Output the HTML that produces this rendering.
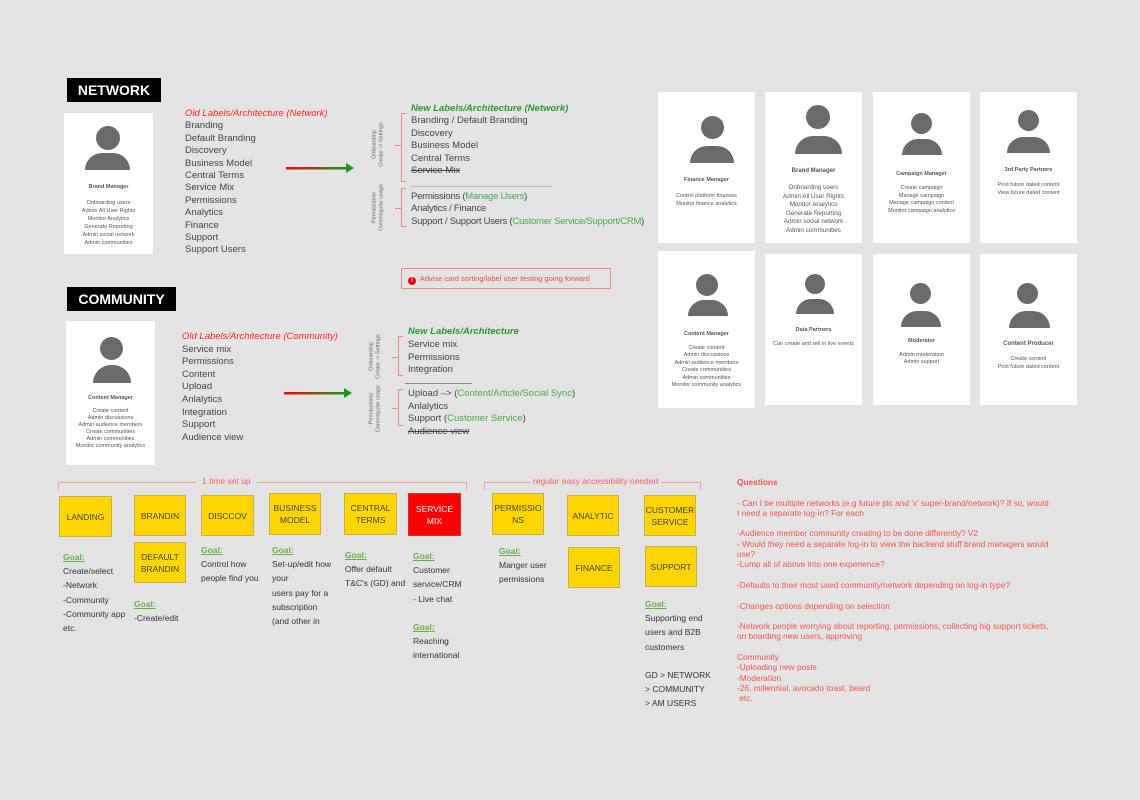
<!DOCTYPE html>
<html><head><meta charset="utf-8"><style>
*{margin:0;padding:0;box-sizing:border-box}
body{width:1140px;height:800px;background:#e4e4e4;position:relative;overflow:hidden;font-family:"Liberation Sans",sans-serif;color:#444}
.a{position:absolute;white-space:nowrap}
.lbl{position:absolute;background:#000;color:#fff;font-weight:bold;font-size:14px;text-align:center;line-height:24px}
.card{position:absolute;background:#fff}
.ic{position:absolute;background:#6a6a6a}
.t{font-size:9.5px;color:#444;line-height:12.4px}
.ct{position:absolute;left:0;right:0;text-align:center;color:#555;white-space:nowrap}
.y{position:absolute;background:#ffd600;border:1px solid #c9b04a;font-size:8.5px;color:#444;text-align:center;display:flex;align-items:center;justify-content:center;line-height:12px}
.g{font-size:8.5px;line-height:14.2px;color:#333}
.gl{color:#6aae4a;font-weight:bold;text-decoration:underline}
.q{font-size:8.3px;color:#f0544c;line-height:10.3px}
.br{position:absolute;border:1px solid #f08a8a;border-right:none}
.rot{position:absolute;transform:rotate(-90deg);transform-origin:center;font-size:5.5px;color:#666;text-align:center;line-height:6.5px;white-space:nowrap}
</style></head><body>

<div class="lbl" style="left:67px;top:78px;width:94px;">NETWORK</div>
<div class="lbl" style="left:67px;top:287px;width:109px;">COMMUNITY</div>

<div class="card" style="left:64px;top:113px;width:89px;height:141px;">
<div class="ic" style="left:32px;top:13px;width:24px;height:24px;border-radius:50%"></div>
<div class="ic" style="left:21px;top:40px;width:45px;height:17px;border-radius:20px 20px 0 0"></div>
<div class="ct" style="top:71px;font-size:5.5px;font-weight:bold">Brand Manager</div>
<div class="ct" style="top:86px;font-size:5.5px;line-height:8px">Onboarding users<br>Admin All User Rights<br>Monitor Analytics<br>Generate Reporting<br>Admin social network<br>Admin communities</div>
</div>

<div class="a t" style="left:185px;top:108px"><i style="color:#f22;">Old Labels/Architecture (Network)</i><br>Branding<br>Default Branding<br>Discovery<br>Business Model<br>Central Terms<br>Service Mix<br>Permissions<br>Analytics<br>Finance<br>Support<br>Support Users</div>

<svg class="a" style="left:280px;top:160px" width="80" height="16"><defs><linearGradient id="gr"><stop offset="0" stop-color="#f00"/><stop offset="1" stop-color="#1a9a1a"/></linearGradient></defs><rect x="6" y="7" width="62" height="2.5" fill="url(#gr)"/><path d="M66 3 L74 8 L66 13Z" fill="#1a9a1a"/></svg>
<svg class="a" style="left:278px;top:385px" width="80" height="16"><defs><linearGradient id="gr2"><stop offset="0" stop-color="#f00"/><stop offset="1" stop-color="#1a9a1a"/></linearGradient></defs><rect x="6" y="7" width="62" height="2.5" fill="url(#gr2)"/><path d="M66 3 L74 8 L66 13Z" fill="#1a9a1a"/></svg>

<div class="br" style="left:401px;top:113px;width:5px;height:69px"></div>
<div class="a" style="left:395px;top:145px;width:6px;border-top:1px solid #f08a8a"></div>
<div class="rot" style="left:348px;top:138px;width:60px">Onboarding<br>Create -&gt; Settings</div>
<div class="a" style="left:410px;top:186px;width:142px;border-top:1.5px solid #bbb"></div>
<div class="br" style="left:401px;top:188px;width:5px;height:39px"></div>
<div class="a" style="left:395px;top:208px;width:6px;border-top:1px solid #f08a8a"></div>
<div class="rot" style="left:348px;top:201px;width:60px">Permissions/<br>Core/regular usage</div>
<div class="a t" style="left:411px;top:103px"><i style="color:#2a9a2a;font-weight:bold">New Labels/Architecture (Network)</i><br>Branding / Default Branding<br>Discovery<br>Business Model<br>Central Terms<br><s>Service Mix</s></div>
<div class="a t" style="left:411px;top:191px;letter-spacing:-0.25px">Permissions (<span style="color:#4aa84a">Manage Users</span>)<br>Analytics / Finance<br>Support / Support Users (<span style="color:#4aa84a">Customer Service/Support/CRM</span>)</div>

<div class="a" style="left:401px;top:268px;width:210px;height:21px;border:1px solid #f08a8a;font-size:7.5px;color:#f04848;line-height:19px;padding-left:6px"><span style="display:inline-block;width:8px;height:8px;border-radius:50%;background:#e00;color:#fff;font-size:6px;line-height:8px;text-align:center;font-weight:bold;vertical-align:-1px">!</span>&nbsp; Advise card sorting/label user testing going forward</div>

<div class="card" style="left:66px;top:321px;width:89px;height:144px;">
<div class="ic" style="left:34px;top:16px;width:23px;height:23px;border-radius:50%"></div>
<div class="ic" style="left:27px;top:44px;width:38px;height:18px;border-radius:18px 18px 0 0"></div>
<div class="ct" style="top:74px;font-size:5.5px;font-weight:bold">Content Manager</div>
<div class="ct" style="top:87px;font-size:5.5px;line-height:7px">Create content<br>Admin discussions<br>Admin audience members<br>Create communities<br>Admin communities<br>Monitor community analytics</div>
</div>

<div class="a t" style="left:182px;top:331px;line-height:12.6px"><i style="color:#f22;">Old Labels/Architecture (Community)</i><br>Service mix<br>Permissions<br>Content<br>Upload<br>Anlalytics<br>Integration<br>Support<br>Audience view</div>

<div class="br" style="left:398px;top:336px;width:5px;height:40px"></div>
<div class="a" style="left:392px;top:357px;width:6px;border-top:1px solid #f08a8a"></div>
<div class="rot" style="left:345px;top:350px;width:60px">Onboarding<br>Create -&gt; Settings</div>
<div class="a" style="left:405px;top:383px;width:67px;border-top:1px solid #888"></div>
<div class="br" style="left:398px;top:389px;width:5px;height:37px"></div>
<div class="a" style="left:392px;top:408px;width:6px;border-top:1px solid #f08a8a"></div>
<div class="rot" style="left:345px;top:402px;width:60px">Permissions/<br>Core/regular usage</div>
<div class="a t" style="left:408px;top:326px;line-height:12.8px"><i style="color:#2a9a2a;font-weight:bold">New Labels/Architecture</i><br>Service mix<br>Permissions<br>Integration</div>
<div class="a t" style="left:408px;top:388px;line-height:12.6px">Upload –&gt; (<span style="color:#4aa84a">Content/Article/Social Sync</span>)<br>Anlalytics<br>Support (<span style="color:#4aa84a">Customer Service</span>)<br><s>Audience view</s></div>

<div class="card" style="left:658px;top:92px;width:97px;height:151px">
<div class="ic" style="left:43px;top:24px;width:23px;height:23px;border-radius:50%"></div>
<div class="ic" style="left:32px;top:54px;width:44px;height:17px;border-radius:20px 20px 0 0"></div>
<div class="ct" style="top:85px;font-size:5.5px;font-weight:bold">Finance Manager</div>
<div class="ct" style="top:100px;font-size:5.5px;line-height:8px">Control platform finances<br>Monitor finance analytics</div></div>
<div class="card" style="left:765px;top:92px;width:97px;height:151px">
<div class="ic" style="left:41px;top:13px;width:24px;height:24px;border-radius:50%"></div>
<div class="ic" style="left:30px;top:44px;width:47px;height:18px;border-radius:20px 20px 0 0"></div>
<div class="ct" style="top:76px;font-size:6px;font-weight:bold">Brand Manager</div>
<div class="ct" style="top:92px;font-size:6.3px;line-height:8.6px">Onboarding users<br>Admin All User Rights<br>Monitor Analytics<br>Generate Reporting<br>Admin social network<br>Admin communities</div></div>
<div class="card" style="left:873px;top:92px;width:97px;height:151px">
<div class="ic" style="left:38px;top:21px;width:21px;height:21px;border-radius:50%"></div>
<div class="ic" style="left:29px;top:47px;width:40px;height:16px;border-radius:18px 18px 0 0"></div>
<div class="ct" style="top:79px;font-size:5.5px;font-weight:bold">Campaign Manager</div>
<div class="ct" style="top:93px;font-size:5.5px;line-height:7.5px">Create campaign<br>Manage campaign<br>Manage campaign content<br>Monitor campaign analytics</div></div>
<div class="card" style="left:980px;top:92px;width:97px;height:151px">
<div class="ic" style="left:38px;top:18px;width:21px;height:21px;border-radius:50%"></div>
<div class="ic" style="left:27px;top:45px;width:43px;height:16px;border-radius:18px 18px 0 0"></div>
<div class="ct" style="top:75px;font-size:5.5px;font-weight:bold">3rd Party Partners</div>
<div class="ct" style="top:90px;font-size:5.5px;line-height:7.5px">Post future dated content<br>View future dated content</div></div>

<div class="card" style="left:658px;top:251px;width:97px;height:157px">
<div class="ic" style="left:38px;top:23px;width:22px;height:22px;border-radius:50%"></div>
<div class="ic" style="left:30px;top:49px;width:40px;height:16px;border-radius:18px 18px 0 0"></div>
<div class="ct" style="top:80px;font-size:5.5px;font-weight:bold">Content Manager</div>
<div class="ct" style="top:94px;font-size:5.5px;line-height:7.4px">Create content<br>Admin discussions<br>Admin audience members<br>Create communities<br>Admin communities<br>Monitor community analytics</div></div>
<div class="card" style="left:765px;top:254px;width:97px;height:151px">
<div class="ic" style="left:40px;top:20px;width:20px;height:20px;border-radius:50%"></div>
<div class="ic" style="left:31px;top:45px;width:38px;height:15px;border-radius:17px 17px 0 0"></div>
<div class="ct" style="top:73px;font-size:5.5px;font-weight:bold">Data Partners</div>
<div class="ct" style="top:87px;font-size:5.5px">Can create and sell in live events</div></div>
<div class="card" style="left:873px;top:254px;width:97px;height:151px">
<div class="ic" style="left:37px;top:29px;width:21px;height:21px;border-radius:50%"></div>
<div class="ic" style="left:28px;top:57px;width:40px;height:16px;border-radius:18px 18px 0 0"></div>
<div class="ct" style="top:84px;font-size:5.5px;font-weight:bold">Moderator</div>
<div class="ct" style="top:98px;font-size:5.5px;line-height:7.4px">Admin moderation<br>Admin support</div></div>
<div class="card" style="left:980px;top:254px;width:97px;height:151px">
<div class="ic" style="left:37px;top:29px;width:21px;height:21px;border-radius:50%"></div>
<div class="ic" style="left:29px;top:57px;width:41px;height:17px;border-radius:18px 18px 0 0"></div>
<div class="ct" style="top:87px;font-size:6px;font-weight:bold">Content Producer</div>
<div class="ct" style="top:101px;font-size:5.5px;line-height:8px">Create content<br>Post future dated content</div></div>

<div class="a" style="left:58px;top:482px;width:409px;height:8px;border:1px solid #f5a0a0;border-bottom:none"></div>
<div class="a" style="left:196px;top:476px;background:#e4e4e4;padding:0 6px;font-size:8.5px;color:#f06060">1 time set up</div>
<div class="a" style="left:484px;top:482px;width:217px;height:8px;border:1px solid #f5a0a0;border-bottom:none"></div>
<div class="a" style="left:530px;top:476px;background:#e4e4e4;padding:0 3px;font-size:8.5px;color:#f06060">regular easy accessibility needed</div>

<div class="y" style="left:59px;top:496px;width:53px;height:41px">LANDING</div>
<div class="y" style="left:134px;top:495px;width:52px;height:41px">BRANDIN</div>
<div class="y" style="left:134px;top:542px;width:52px;height:41px">DEFAULT<br>BRANDIN</div>
<div class="y" style="left:201px;top:495px;width:53px;height:41px">DISCCOV</div>
<div class="y" style="left:269px;top:493px;width:52px;height:42px">BUSINESS<br>MODEL</div>
<div class="y" style="left:344px;top:493px;width:53px;height:42px">CENTRAL<br>TERMS</div>
<div class="y" style="left:408px;top:493px;width:53px;height:43px;background:#f00;color:#fff;border-color:#c33">SERVICE<br>MIX</div>
<div class="y" style="left:492px;top:493px;width:52px;height:42px">PERMISSIO<br>NS</div>
<div class="y" style="left:567px;top:495px;width:52px;height:41px">ANALYTIC</div>
<div class="y" style="left:644px;top:495px;width:52px;height:41px">CUSTOMER<br>SERVICE</div>
<div class="y" style="left:568px;top:547px;width:52px;height:41px">FINANCE</div>
<div class="y" style="left:645px;top:546px;width:52px;height:41px">SUPPORT</div>

<div class="a g" style="left:63px;top:550px"><span class="gl">Goal:</span><br>Create/select<br>-Network<br>-Community<br>-Community app<br>etc.</div>
<div class="a g" style="left:134px;top:597px"><span class="gl">Goal:</span><br>-Create/edit</div>
<div class="a g" style="left:201px;top:543px"><span class="gl">Goal:</span><br>Control how<br>people find you</div>
<div class="a g" style="left:272px;top:543px"><span class="gl">Goal:</span><br>Set-up/edit how<br>your<br>users pay for a<br>subscription<br>(and other in</div>
<div class="a g" style="left:345px;top:548px"><span class="gl">Goal:</span><br>Offer default<br>T&amp;C's (GD) and</div>
<div class="a g" style="left:413px;top:549px"><span class="gl">Goal:</span><br>Customer<br>service/CRM<br>- Live chat<br><br><span class="gl">Goal:</span><br>Reaching<br>international</div>
<div class="a g" style="left:499px;top:544px"><span class="gl">Goal:</span><br>Manger user<br>permissions</div>
<div class="a g" style="left:645px;top:597px"><span class="gl">Goal:</span><br>Supporting end<br>users and B2B<br>customers<br><br>GD &gt; NETWORK<br>&gt; COMMUNITY<br>&gt; AM USERS</div>

<div class="a q" style="left:737px;top:477px"><b>Questions</b><br><br>- Can I be multiple networks (e.g future plc and 'x' super-brand/network)? If so, would<br>I need a separate log-in? For each<br><br>-Audience member community creating to be done differently? V2<br>- Would they need a separate log-in to view the backend stuff brand managers would<br>use?<br>-Lump all of above into one experience?<br><br>-Defaults to their most used community/network depending on log-in type?<br><br>-Changes options depending on selection<br><br>-Network people worrying about reporting, permissions, collecting big support tickets,<br>on boarding new users, approving<br><br>Community<br>-Uploading new posts<br>-Moderation<br>-26, millennial, avocado toast, beard<br>&nbsp;etc.</div>
</body></html>
